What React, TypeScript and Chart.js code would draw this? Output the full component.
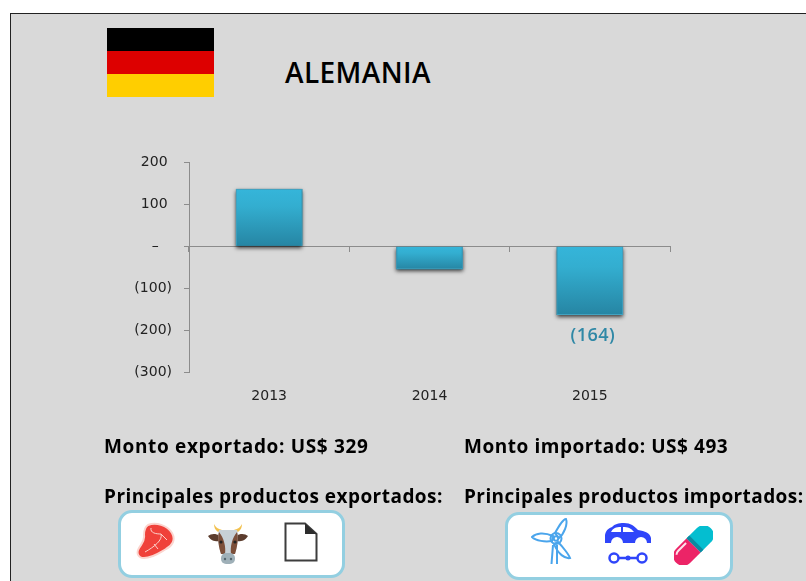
import React, { useEffect, useRef } from "react";
import { Chart, registerables } from "chart.js";

Chart.register(...registerables);

const years = ["2013", "2014", "2015"];
const balance = [137, -55, -164];
const labelledValues = [null, null, "(164)"];
const FONT = '"DejaVu Sans", sans-serif';

const fmt = (v: number) =>
  v === 0 ? "–\u00a0\u00a0\u00a0" : v < 0 ? `(${Math.abs(v)})` : `${v}\u00a0`;

const labelPlugin = {
  id: "valueLabels",
  afterDatasetsDraw(chart: any) {
    const c = chart.ctx;
    const meta = chart.getDatasetMeta(0);
    c.save();
    c.font = `600 18px "Open Sans", sans-serif`;
    (c as any).letterSpacing = "0.5px";
    c.fillStyle = "#2f88a6";
    c.textAlign = "center";
    c.textBaseline = "middle";
    labelledValues.forEach((t, i) => {
      if (!t) return;
      const el = meta.data[i];
      c.fillText(t, el.x + 3, el.y + 21);
    });
    c.restore();
  },
};

const shadowPlugin = {
  id: "barShadow",
  beforeDatasetsDraw(chart: any) {
    const c = chart.ctx;
    const meta = chart.getDatasetMeta(0);
    c.save();
    c.shadowColor = "rgba(0,0,0,0.75)";
    c.shadowBlur = 4;
    c.shadowOffsetY = 2;
    c.fillStyle = "#2685a3";
    meta.data.forEach((el: any) => {
      const { x, y, base, width } = el.getProps(["x", "y", "base", "width"], true);
      c.fillRect(x - width / 2, Math.min(y, base), width, Math.abs(y - base));
    });
    c.restore();
  },
};

function BarChart() {
  const ref = useRef<HTMLCanvasElement>(null);
  useEffect(() => {
    const chart = new Chart(ref.current!, {
      type: "bar",
      data: {
        labels: years,
        datasets: [
          {
            data: balance,
            barPercentage: 0.415,
            categoryPercentage: 1,
            borderWidth: 1,
            borderColor: "rgba(70,165,195,0.9)",
            backgroundColor: (ctx: any) => {
              const { chart, dataIndex } = ctx;
              const y = chart.scales.y;
              if (!y || dataIndex === undefined) return "#35b4d8";
              const v = balance[dataIndex];
              const a = y.getPixelForValue(Math.max(v, 0));
              const b = y.getPixelForValue(Math.min(v, 0));
              if (!Number.isFinite(a) || !Number.isFinite(b)) return "#35b4d8";
              const g = chart.ctx.createLinearGradient(0, a, 0, b);
              g.addColorStop(0, "#35b5da");
              g.addColorStop(0.3, "#33aed0");
              g.addColorStop(1, "#2685a3");
              return g;
            },
          },
        ],
      },
      options: {
        animation: false,
        responsive: false,
        events: [],
        layout: { padding: { left: 129, right: 136, top: 162.5, bottom: 0 } },
        plugins: { legend: { display: false }, tooltip: { enabled: false }, title: { display: false } },
        scales: {
          x: {
            position: "bottom",
            grid: { display: false },
            border: { display: false },
            afterFit: (s: any) => {
              s.height = 581 - 372;
            },
            ticks: { color: "#222", font: { family: FONT, size: 14 }, padding: 8, maxRotation: 0 },
          },
          zero: {
            type: "category",
            axis: "x",
            position: { y: 0 },
            offset: true,
            grid: { display: true, drawOnChartArea: false, drawTicks: true, tickLength: 5, color: "#8c8c8c", offset: true },
            border: { display: true, color: "#8c8c8c", width: 1 },
            ticks: { display: false },
          },
          y: {
            position: "left",
            min: -300,
            max: 200,
            afterFit: (s: any) => {
              s.width = 60;
            },
            grid: { drawOnChartArea: false, drawTicks: true, tickLength: 5, color: "#8c8c8c" },
            border: { display: true, color: "#8c8c8c", width: 1 },
            ticks: {
              stepSize: 100,
              padding: 12,
              color: "#222",
              font: { family: FONT, size: 14 },
              callback: (v: any) => fmt(Number(v)),
            },
          },
        },
      } as any,
      plugins: [shadowPlugin, labelPlugin],
    });
    return () => chart.destroy();
  }, []);
  return <canvas ref={ref} width={806} height={581} style={{ position: "absolute", left: 0, top: 0, width: 806, height: 581 }} />;
}

const text = (left: number, top: number, s: string, spacing: number): React.ReactElement => (
  <div
    style={{
      position: "absolute",
      left,
      top,
      fontFamily: '"Open Sans", sans-serif',
      fontWeight: 700,
      fontSize: 19,
      letterSpacing: spacing,
      lineHeight: "24px",
      color: "#000",
      whiteSpace: "nowrap",
    }}
  >
    {s}
  </div>
);

const icon = (left: number, top: number, w: number, h: number, vb: string, body: React.ReactNode) => (
  <svg style={{ position: "absolute", left, top }} width={w} height={h} viewBox={vb}>
    {body}
  </svg>
);

const box = (left: number, top: number, w: number, h: number) => (
  <div
    style={{
      position: "absolute",
      left,
      top,
      width: w,
      height: h,
      boxSizing: "border-box",
      background: "#fff",
      border: "3px solid #93cfe1",
      borderRadius: 14,
    }}
  />
);

export default function App() {
  return (
    <div style={{ position: "fixed", left: 0, top: 0, width: 806, height: 581, overflow: "hidden", background: "#fff" }}>
      <div
        style={{
          position: "absolute",
          left: 10,
          top: 13,
          width: 900,
          height: 700,
          background: "#d9d9d9",
          borderLeft: "1px solid #222",
          borderTop: "1px solid #222",
        }}
      />
      <div style={{ position: "absolute", left: 107, top: 28, width: 107, height: 23, background: "#000" }} />
      <div style={{ position: "absolute", left: 107, top: 51, width: 107, height: 23, background: "#dd0000" }} />
      <div style={{ position: "absolute", left: 107, top: 74, width: 107, height: 23, background: "#ffce00" }} />
      <div
        style={{
          position: "absolute",
          left: 285,
          top: 53,
          fontFamily: '"Open Sans", sans-serif',
          fontSize: 28,
          fontWeight: 600,
          letterSpacing: 0.4,
          lineHeight: "38px",
          color: "#000",
          whiteSpace: "nowrap",
        }}
      >
        ALEMANIA
      </div>
      <BarChart />
      {text(104, 434, "Monto exportado: US$ 329", 0.65)}
      {text(464, 434, "Monto importado: US$ 493", 0.55)}
      {text(104, 484, "Principales productos exportados:", 0.47)}
      {text(464, 484, "Principales productos importados:", 0.42)}
      {box(118, 510, 227, 68)}
      {box(505, 512, 228, 68)}
      {icon(136, 522, 40, 37, "0 0 40 37",
        <g>
          <path d="M12 3 C20 0 31 3 36 11 C40 18 36 24 30 27 C23 31 17 36 8 36 C2 36 0 31 3 26 C6 21 9 19 8 13 C8 8 9 5 12 3 Z" fill="#f0413a" stroke="#fbd5cf" strokeWidth="2" />
          <path d="M15 6 C14 11 20 12 25 12 M25 12 C27 18 18 25 9 30 M25 12 L31 18 M18 22 L22 27" fill="none" stroke="#fcd2cb" strokeWidth="1" />
        </g>)}
      {icon(208, 523, 40, 42, "0 0 40 42",
        <g>
          <path d="M10 9 C7 7 6 4 6 1 C8 5 11 6 14 7 Z M30 9 C33 7 34 4 34 1 C32 5 29 6 26 7 Z" fill="#f2c14e" />
          <path d="M12 13 C7 10 3 11 0 13 C3 18 8 19 13 18 Z M28 13 C33 10 37 11 40 13 C37 18 32 19 27 18 Z" fill="#5c3d2e" />
          <path d="M11 7 L29 7 C31 14 29 24 27 31 L13 31 C11 24 9 14 11 7 Z" fill="#c7d0d6" />
          <path d="M11 9 C9 15 11 25 13 31 L17 31 C18 24 16 15 11 9 Z M29 9 C31 15 29 25 27 31 L23 31 C22 24 24 15 29 9 Z" fill="#7c4f3a" />
          <rect x="13" y="30" width="14" height="11" rx="5" fill="#9fb0b8" />
          <circle cx="17" cy="36" r="1.2" fill="#54666e" />
          <circle cx="23" cy="36" r="1.2" fill="#54666e" />
          <circle cx="13" cy="19" r="1.6" fill="#222" />
          <circle cx="27" cy="19" r="1.6" fill="#222" />
        </g>)}
      {icon(284, 522, 34, 40, "0 0 34 40",
        <g>
          <path d="M1.5 1.5 L21 1.5 L32.5 12 L32.5 38.5 L1.5 38.5 Z" fill="#fff" stroke="#3d3d3d" strokeWidth="2" />
          <path d="M21 1.5 L32.5 12 L21 12 Z" fill="#2d2d2d" />
        </g>)}
      {icon(531, 517, 43, 48, "0 0 43 48",
        <g fill="none" stroke="#4aa5ec" strokeWidth="2">
          <path d="M22 19 C13 15 5 16 1 20 C5 24 14 25 21 24 Z" />
          <path d="M24 16 C28 9 32 2 35 2 C37 7 33 17 28 21 Z" />
          <path d="M27 25 C32 30 38 38 39 41 C34 42 27 37 23 27 Z" />
          <circle cx="25" cy="21.5" r="5.5" />
          <circle cx="25" cy="21.5" r="2.2" />
          <path d="M22 28 L20.5 47 M26 28 L26 47" />
        </g>)}
      {icon(604, 522, 48, 43, "0 0 48 43",
        <g>
          <path d="M1 21 L1 13 C2 8 5 6 8 5 C11 2 14 1 20 1 C27 1 30 4 34 8 C41 9 46 11 47 16 L47 21 L43 21 A6 6 0 0 0 31 21 L19 21 A6 6 0 0 0 7 21 Z" fill="#2f45fa" />
          <path d="M7 10 C9 6 12 5 17 5 L17 10 Z M19 5 C24 5 27 6 30 10 L19 10 Z" fill="#fff" />
          <path d="M12 36 L36 36" stroke="#2f45fa" strokeWidth="2.5" />
          <circle cx="10" cy="36" r="4.5" fill="#fff" stroke="#2f45fa" strokeWidth="2.5" />
          <circle cx="38" cy="36" r="4.5" fill="#fff" stroke="#2f45fa" strokeWidth="2.5" />
          <circle cx="24" cy="36" r="2.5" fill="#2f45fa" />
        </g>)}
      {icon(674, 526, 39, 39, "0 0 39 39",
        <g transform="rotate(45 19.5 19.5)">
          <path d="M9.5 19.5 L9.5 5 A10 10 0 0 1 29.5 5 L29.5 19.5 Z" fill="#04bed0" />
          <rect x="9.5" y="15.5" width="20" height="4" fill="#0b8aa0" />
          <path d="M9.5 19.5 L29.5 19.5 L29.5 34 A10 10 0 0 1 9.5 34 Z" fill="#ec2467" />
          <path d="M12.5 23 L12.5 34 C12.5 36 13 37 14 38" fill="none" stroke="#fde3ea" strokeWidth="2" />
        </g>)}
    </div>
  );
}
